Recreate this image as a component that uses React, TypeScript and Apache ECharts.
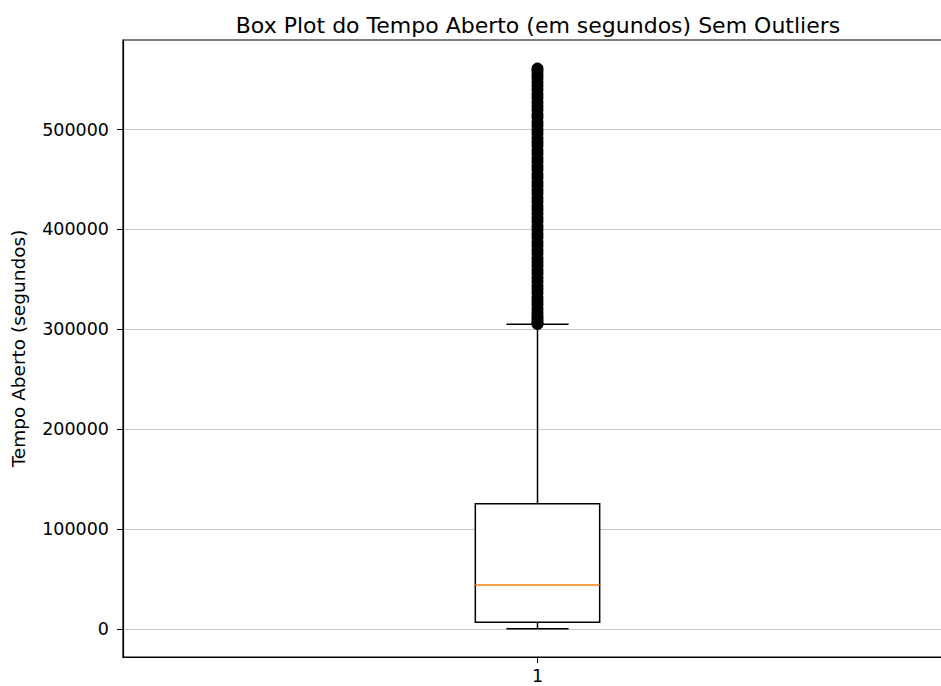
import React, { useEffect, useRef } from "react";
import * as echarts from "echarts";

const categories = ["1"];
// [lower whisker, Q1, median, Q3, upper whisker]
const boxStats = [200, 6700, 44000, 125400, 305000];
const outliers = [
  305300, 306100, 308400, 311000, 313700, 317200, 320500, 324800, 328300, 331900,
  336400, 340200, 343700, 347900, 351600, 355800, 359300, 363700, 367400, 371200,
  375900, 379400, 383600, 387300, 391800, 395500, 399700, 403200, 407900, 411400,
  415600, 419800, 423300, 427700, 431500, 435900, 439400, 443800, 447200, 451600,
  455300, 459900, 463400, 467800, 471500, 475700, 479200, 483900, 487600, 491300,
  495800, 499400, 503700, 507200, 511900, 515400, 519800, 523500, 527300, 531700,
  535200, 539800, 543500, 547300, 551600, 554900, 558200, 561000,
];
const yTicks = [0, 100000, 200000, 300000, 400000, 500000];
const titleText = "Box Plot do Tempo Aberto (em segundos) Sem Outliers";
const yName = "Tempo Aberto (segundos)";

const FONT = "DejaVu Sans";

export default function App() {
  const ref = useRef<HTMLDivElement>(null);
  useEffect(() => {
    document.body.style.margin = "0";
    if (!ref.current) return;
    const chart = echarts.init(ref.current, null, { renderer: "svg" });
    const option: any = {
      animation: false,
      backgroundColor: "#fff",
      title: {
        text: titleText,
        left: 533,
        top: 9,
        textAlign: "center",
        textStyle: { fontFamily: FONT, fontSize: 22, fontWeight: "normal", color: "#000" },
      },
      grid: {
        left: 123,
        width: 829,
        top: 40,
        bottom: 29,
        outerBoundsMode: "none",
        containLabel: false,
        show: true,
        borderColor: "#000",
        borderWidth: 1.2,
        backgroundColor: "transparent",
      },
      xAxis: {
        type: "category",
        data: categories,
        boundaryGap: true,
        axisLine: { show: true, onZero: false, lineStyle: { color: "#000", width: 1.2 } },
        axisTick: { show: true, alignWithLabel: true, length: 6, lineStyle: { color: "#000" } },
        axisLabel: { margin: 10, fontFamily: FONT, fontSize: 17.5, color: "#000" },
        splitLine: { show: false },
      },
      yAxis: {
        type: "value",
        min: -28000,
        max: 589600,
        name: yName,
        nameLocation: "middle",
        nameGap: 95,
        nameTextStyle: { fontFamily: FONT, fontSize: 18.5, color: "#000" },
        axisLine: { show: true, lineStyle: { color: "#000", width: 1.2 } },
        axisTick: { show: true, length: 6, customValues: yTicks, lineStyle: { color: "#000" } },
        axisLabel: {
          customValues: yTicks,
          margin: 14,
          fontFamily: FONT,
          fontSize: 17.5,
          color: "#000",
          formatter: (v: number) => String(v),
        },
        splitLine: { show: true, lineStyle: { color: "#c8c8c8", width: 1 } },
      },
      series: [
        {
          type: "custom",
          data: [[0, ...boxStats]],
          encode: { x: 0, y: [1, 2, 3, 4, 5] },
          renderItem: (params: any, api: any) => {
            const x = api.value(0);
            const lo = api.coord([x, api.value(1)]);
            const q1 = api.coord([x, api.value(2)]);
            const med = api.coord([x, api.value(3)]);
            const q3 = api.coord([x, api.value(4)]);
            const hi = api.coord([x, api.value(5)]);
            const bw = api.size([1, 0])[0] * 0.15;
            const cx = lo[0];
            const black = { stroke: "#000", lineWidth: 1.5, fill: "none" };
            return {
              type: "group",
              children: [
                { type: "line", shape: { x1: cx, y1: q1[1], x2: cx, y2: lo[1] }, style: black },
                { type: "line", shape: { x1: cx, y1: q3[1], x2: cx, y2: hi[1] }, style: black },
                { type: "line", shape: { x1: cx - bw / 4, y1: lo[1], x2: cx + bw / 4, y2: lo[1] }, style: black },
                { type: "line", shape: { x1: cx - bw / 4, y1: hi[1], x2: cx + bw / 4, y2: hi[1] }, style: black },
                {
                  type: "rect",
                  shape: { x: cx - bw / 2, y: q3[1], width: bw, height: q1[1] - q3[1] },
                  style: { stroke: "#000", lineWidth: 1.5, fill: "#fff" },
                },
                {
                  type: "line",
                  shape: { x1: cx - bw / 2, y1: med[1], x2: cx + bw / 2, y2: med[1] },
                  style: { stroke: "#ff7f0e", lineWidth: 1.5 },
                },
              ],
            };
          },
          z: 3,
        },
        {
          type: "scatter",
          data: outliers.map((v) => [0, v]),
          symbol: "circle",
          symbolSize: 12,
          itemStyle: { color: "#000", borderColor: "#000", borderWidth: 0, opacity: 1 },
          z: 4,
        },
      ],
    };
    chart.setOption(option);
    return () => chart.dispose();
  }, []);
  return <div ref={ref} style={{ width: 941, height: 686 }} />;
}
